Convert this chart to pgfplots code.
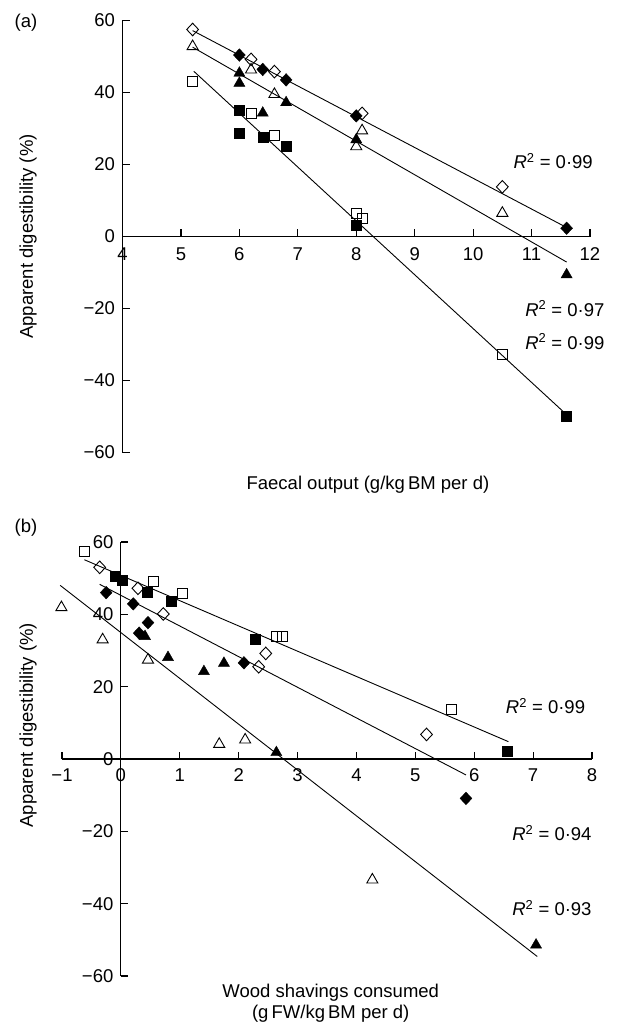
\documentclass[border=0pt]{standalone}
\usepackage{fontspec}
\setmainfont{Liberation Sans}
\usepackage{pgfplots}
\pgfplotsset{compat=1.18}

% shared look of both panels
\pgfplotsset{
  digest/.style={
    scale only axis, clip=false,
    ymin=-60, ymax=60,
    ytick={-60,-40,...,60},
    yticklabels={−60,−40,−20,0,20,40,60},
    tick align=inside, major tick length=7.5pt,
    axis line style={line width=1.2pt, -},
    tick style={line width=1.2pt, black},
    hide obscured x ticks=false, hide obscured y ticks=false,
    yticklabel style={xshift=-4pt},
  },
  fitline/.style={no marks, line width=0.9pt, black},
  odia/.style={only marks, mark=diamond, mark size=6.3pt, mark options={xscale=1.25, fill=white, draw=black, line width=0.9pt}},
  fdia/.style={only marks, mark=diamond*, mark size=6.3pt, mark options={xscale=1.25, fill=black, draw=black}},
  otri/.style={only marks, mark=triangle, mark size=6.4pt, mark options={fill=white, draw=black, line width=0.9pt}},
  ftri/.style={only marks, mark=triangle*, mark size=6.4pt, mark options={fill=black, draw=black}},
  osq/.style={only marks, mark=square, mark size=5pt, mark options={fill=white, draw=black, line width=0.9pt}},
  fsq/.style={only marks, mark=square*, mark size=5pt, mark options={fill=black, draw=black}},
}

\begin{document}
\begin{tikzpicture}[font=\fontsize{18.5}{21.5}\selectfont]
\useasboundingbox (0,0) rectangle (621pt,-1030pt);

\node at (26pt,-23pt) {(a)};
\node at (26pt,-528pt) {(b)};

% (a) faecal output
\begin{axis}[digest,
  at={(122.5pt,-452.5pt)}, anchor=south west,
  width=467.5pt, height=432pt,
  xmin=4, xmax=12,
  axis x line*=middle, axis y line*=left,
  xtick={4,...,12}, xticklabels={4,5,6,7,8,9,10,11,12},
  xticklabel style={yshift=-8pt},
]
\addplot[fitline] coordinates {(5.2,57.2) (11.6,2.5)};
\addplot[fitline] coordinates {(5.2,52.6) (11.6,-7.1)};
\addplot[fitline] coordinates {(5.22,45.9) (11.6,-49.5)};

\addplot[fsq] coordinates {(6,35.1) (6,28.8) (6.4,27.7) (6.8,25.2) (8,3.2) (11.6,-50)};
\addplot[osq] coordinates {(5.2,43) (6.2,34.2) (6.6,28.2) (8,6.4) (8.1,4.9) (10.5,-32.9)};
\addplot[ftri] coordinates {(6,45.4) (6,42.6) (6.4,34.3) (6.8,37.2) (8,26.9) (11.6,-10.6)};
\addplot[otri] coordinates {(5.2,52.8) (6.2,46.3) (6.6,39.5) (8.1,29.4) (8,25) (10.5,6.5)};
\addplot[fdia] coordinates {(6,50.4) (6.4,46.4) (6.8,43.5) (8,33.5) (11.6,2.3)};
\addplot[odia] coordinates {(5.2,57.5) (6.2,49.2) (6.6,45.8) (8.1,34.2) (10.5,13.8)};

\node at (axis cs:11.37,21) {\textit{R}\textsuperscript{2} = 0·99};
\node at (axis cs:11.57,-20) {\textit{R}\textsuperscript{2} = 0·97};
\node at (axis cs:11.57,-29.2) {\textit{R}\textsuperscript{2} = 0·99};

\node[rotate=90] at (axis description cs:-0.202,0.5) {Apparent digestibility (\%)};
\node at (axis description cs:0.525,0) [yshift=-32.5pt] {Faecal output (g/kg\,BM per d)};
\end{axis}

% (b) wood shavings
\begin{axis}[digest,
  at={(62pt,-976pt)}, anchor=south west,
  width=530pt, height=434pt,
  xmin=-1, xmax=8,
  axis x line*=middle, axis y line*=middle,
  xtick={-1,0,...,8}, xticklabels={−1,0,1,2,3,4,5,6,7,8},
  xticklabel style={yshift=-6pt},
]
\addplot[fitline] coordinates {(-0.62,55.1) (6.58,4.8)};
\addplot[fitline] coordinates {(-0.36,48.3) (5.86,-4.4)};
\addplot[fitline] coordinates {(-1.03,48) (7.07,-54.6)};

\addplot[osq] coordinates {(-0.62,57.3) (0.55,49.2) (1.04,45.8) (2.65,34.0) (2.74,33.8) (5.62,13.7)};
\addplot[fsq] coordinates {(-0.10,50.6) (0.02,49.5) (0.45,46.1) (0.85,43.5) (2.28,33.2) (6.56,2.2)};
\addplot[odia] coordinates {(-0.36,53.0) (0.29,47.2) (0.72,40.1) (2.34,25.5) (2.46,29.2) (5.19,6.8)};
\addplot[fdia] coordinates {(-0.25,46.0) (0.21,42.9) (0.46,37.7) (0.31,34.8) (2.09,26.6) (5.86,-10.9)};
\addplot[otri] coordinates {(-1.01,41.9) (-0.31,33.0) (0.46,27.4) (1.67,4.1) (2.11,5.3) (4.27,-33.4)};
\addplot[ftri] coordinates {(0.41,33.9) (0.80,28.1) (1.41,24.2) (1.75,26.5) (2.64,1.8) (7.05,-51.4)};

\node at (axis cs:7.21,14.7) {\textit{R}\textsuperscript{2} = 0·99};
\node at (axis cs:7.32,-20.5) {\textit{R}\textsuperscript{2} = 0·94};
\node at (axis cs:7.32,-41.2) {\textit{R}\textsuperscript{2} = 0·93};

\node[rotate=90] at (axis description cs:-0.064,0.578) {Apparent digestibility (\%)};
\node[align=center] at (axis description cs:0.507,0) [yshift=-27pt] {Wood shavings consumed\\(g\,FW/kg\,BM per d)};
\end{axis}
\end{tikzpicture}
\end{document}
